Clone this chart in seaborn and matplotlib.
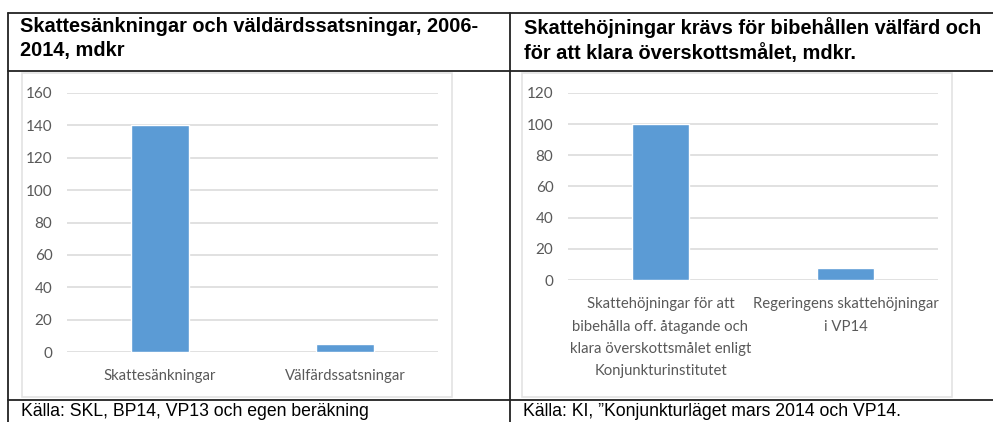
import matplotlib.pyplot as plt
import pandas as pd
import seaborn as sns
from matplotlib.lines import Line2D
from matplotlib.patches import Rectangle

# Data
left_title = "Skattesänkningar och väldärdssatsningar, 2006-\n2014, mdkr"
left_labels = ["Skattesänkningar", "Välfärdssatsningar"]
left_values = [140, 5]
left_ticks = [0, 20, 40, 60, 80, 100, 120, 140, 160]
left_source = "Källa: SKL, BP14, VP13 och egen beräkning"

right_title = "Skattehöjningar krävs för bibehållen välfärd och\nför att klara överskottsmålet, mdkr."
right_labels = ["Skattehöjningar för att\nbibehålla off. åtagande och\nklara överskottsmålet enligt\nKonjunkturinstitutet",
                "Regeringens skattehöjningar\ni VP14"]
right_values = [100, 8]
right_ticks = [0, 20, 40, 60, 80, 100, 120]
right_source = "Källa: KI, \u201dKonjunkturläget mars 2014 och VP14."

W, H = 993, 422
BAR = "#5b9bd5"
GRID = "#d9d9d9"
TICK = "#595959"

sns.set_style("white")
plt.rcParams['font.family'] = ['Lato', 'DejaVu Sans']


def fx(x):
    return x / W


def fy(y):
    return 1 - y / H


fig = plt.figure(figsize=(W / 100, H / 100), dpi=100)

# table borders
def hline(y, x0, x1):
    fig.add_artist(Line2D([fx(x0), fx(x1)], [fy(y), fy(y)], color="#222222", lw=1.3,
                          transform=fig.transFigure))


def vline(x, y0, y1):
    fig.add_artist(Line2D([fx(x), fx(x)], [fy(y0), fy(y1)], color="#222222", lw=1.3,
                          transform=fig.transFigure))


hline(13, 8, W)
hline(71, 8, W)
hline(400, 8, W)
vline(8, 13, H)
vline(510, 13, H)

# light chart frames
for x0 in [22, 522]:
    fig.add_artist(Rectangle((fx(x0), fy(397)), 430 / W, 324 / H, fill=False,
                             edgecolor="#e3e3e3", lw=1.2, transform=fig.transFigure))


def draw_chart(rect, labels, values, ticks):
    ax = fig.add_axes(rect)
    df = pd.DataFrame({"kategori": labels, "mdkr": values})
    sns.barplot(data=df, x="kategori", y="mdkr", color=BAR, width=0.31,
                saturation=1, ax=ax, zorder=3)
    ax.set_xlim(-0.5, 1.5)
    ax.set_ylim(ticks[0], ticks[-1])
    ax.set_yticks(ticks)
    ax.set_xlabel("")
    ax.set_ylabel("")
    ax.yaxis.grid(True, color=GRID, lw=1.1, zorder=0)
    ax.set_axisbelow(True)
    for s in ax.spines.values():
        s.set_visible(False)
    ax.tick_params(axis='y', length=0, pad=10.5, labelsize=11, labelcolor=TICK)
    ax.tick_params(axis='x', length=0, pad=12.5, labelsize=10.7, labelcolor=TICK)
    for t in ax.get_xticklabels():
        t.set_linespacing(1.75)
    ax.patch.set_alpha(0)
    return ax


draw_chart([fx(67), fy(352), 371 / W, 259 / H], left_labels, left_values, left_ticks)
draw_chart([fx(568), fy(280), 370 / W, 187 / H], right_labels, right_values, right_ticks)

# titles
title_kw = dict(va='top', ha='left', fontsize=14.4, fontweight='bold',
                family=['Liberation Sans', 'DejaVu Sans'], linespacing=1.3, color="black")
fig.text(fx(20), fy(17.5), left_title, **title_kw)
fig.text(fx(524), fy(17.5), right_title, **title_kw)

# sources (cut off at the bottom like the reference)
src_kw = dict(va='top', ha='left', fontsize=12.7,
              family=['Liberation Sans', 'DejaVu Sans'], color="black")
fig.text(fx(21), fy(402.5), left_source, **src_kw)
fig.text(fx(523), fy(402.5), right_source, **src_kw)

fig.savefig("out.png", dpi=100)
